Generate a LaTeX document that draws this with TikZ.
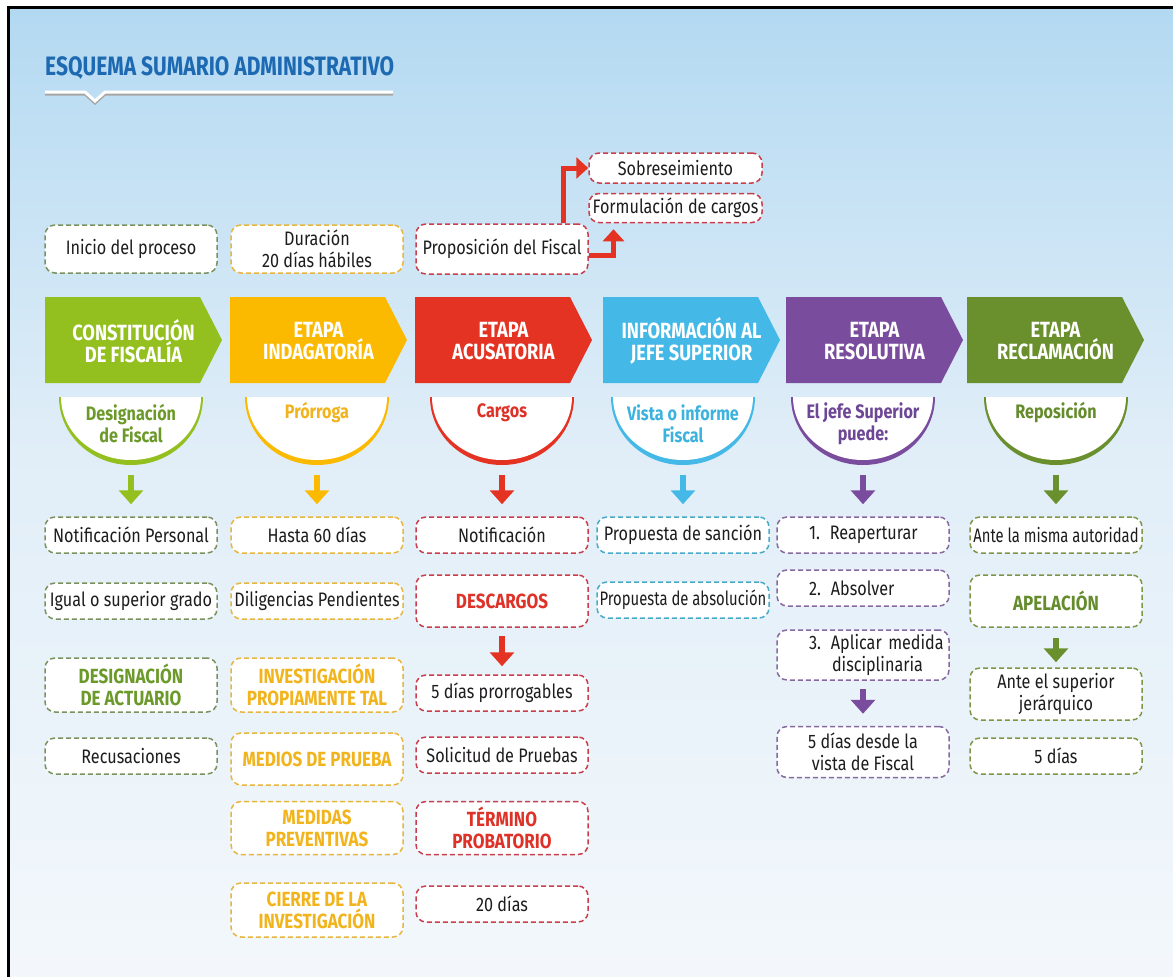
\documentclass[tikz,border=0pt]{standalone}
\usepackage{fontspec}
\setmainfont{Fira Sans}[FakeStretch=0.83]
\newfontfamily\titlefont{Fira Sans}[FakeStretch=0.79]
\newfontfamily\narrowfont{Fira Sans}[FakeStretch=0.76]
\usetikzlibrary{arrows.meta,calc}
\definecolor{bgtop}{RGB}{125,192,236}
\definecolor{bga}{RGB}{160,208,240}
\definecolor{bgb}{RGB}{190,222,243}
\definecolor{bgc}{RGB}{225,238,248}
\definecolor{bgd}{RGB}{248,250,252}
\pgfdeclareverticalshading{bgshade}{100bp}{color(0bp)=(white); color(18bp)=(bgd); color(52bp)=(bgc); color(70bp)=(bgb); color(83bp)=(bga); color(100bp)=(bgtop)}
\definecolor{ctitle}{RGB}{29,105,178}
\definecolor{fgreen}{RGB}{147,192,31}
\definecolor{tgreen}{RGB}{108,154,42}
\definecolor{forange}{RGB}{251,186,0}
\definecolor{torange}{RGB}{242,180,28}
\definecolor{fred}{RGB}{229,51,35}
\definecolor{tred}{RGB}{222,50,40}
\definecolor{fblue}{RGB}{68,184,230}
\definecolor{tblue}{RGB}{60,178,222}
\definecolor{fpurple}{RGB}{122,76,157}
\definecolor{tpurple}{RGB}{110,70,150}
\definecolor{folive}{RGB}{106,143,45}
\definecolor{tolive}{RGB}{100,140,45}
\definecolor{dgreen}{RGB}{122,146,96}
\definecolor{dorange}{RGB}{232,182,64}
\definecolor{dred}{RGB}{200,62,76}
\definecolor{dblue}{RGB}{72,170,200}
\definecolor{dpurple}{RGB}{135,105,160}
\definecolor{dolive}{RGB}{125,150,72}
\definecolor{ink}{RGB}{30,28,30}
\tikzset{
  box/.style={draw=#1, dash pattern=on 5pt off 3pt, line width=1.5pt, rounded corners=10pt,
    fill=white, minimum width=172pt, minimum height=36pt, align=center, inner sep=2pt,
    font=\fontsize{19.5}{22}\selectfont, text=ink},
  hd/.style={font=\bfseries\fontsize{20.5}{22}\selectfont},
  chev/.style={text=white, font=\bfseries\fontsize{22}{22}\selectfont, align=center, inner sep=0pt},
  bowltxt/.style={font=\bfseries\fontsize{19.5}{22}\selectfont, align=center, inner sep=0pt},
  blockarrow/.style={line width=6pt, -{Triangle[width=24pt,length=14pt]}},
  redarrow/.style={draw=fred, line width=5pt, -{Triangle[width=21pt,length=12pt]}},
  lbox/.style={box=dpurple, align=left, text width=168pt, inner xsep=2pt}
}
\newcommand{\mkstage}[8]{%
  \fill[#3] (#2,-297) -- ++(155,0) -- ++(22,-43) -- ++(-22,-43) -- ++(-155,0) -- cycle;
  \node[chev] (h#1) at (#2+88.5,-341) {#4};
  \fill[#3] (#5-72,-397) arc[start angle=180,end angle=360,x radius=72,y radius=68] -- cycle;
  \fill[white] (#5-70,-397) arc[start angle=180,end angle=360,x radius=70,y radius=63] -- cycle;
  \node[bowltxt, text=#8] (l#1) at (#5,-#7) {#6};
  \coordinate (b#1) at (#5,-465);
}
\begin{document}
\begin{tikzpicture}[x=1pt,y=1pt]
\useasboundingbox (0,0) rectangle (1173,-977);
\shade[shading=bgshade] (8,-7) rectangle (1173,-977);
\draw[line width=3pt] (8,-977) -- (8,-7) -- (1173,-7);
% title
\node[anchor=base west, inner sep=0pt, text=ctitle, font=\titlefont\bfseries\fontsize{26.6}{28}\selectfont] (title) at (45,-75) {ESQUEMA SUMARIO ADMINISTRATIVO};
\draw[gray!70, line width=3pt] (45,-94) -- (85,-94) -- (95,-103) -- (105,-94) -- (393,-94);
\draw[white, line width=3pt] (45,-92) -- (85,-92) -- (95,-101) -- (105,-92) -- (393,-92);
% stages
\mkstage{1}{45}{fgreen}{CONSTITUCIÓN\\DE FISCALÍA}{131}{Designación\\de Fiscal}{424}{tgreen}
\mkstage{2}{230}{forange}{ETAPA\\INDAGATORÍA}{317}{Prórroga}{413}{torange}
\mkstage{3}{415}{fred}{ETAPA\\ACUSATORIA}{502}{Cargos}{413}{tred}
\mkstage{4}{603}{fblue}{INFORMACIÓN AL\\JEFE SUPERIOR}{683}{Vista o informe\\Fiscal}{424}{tblue}
\mkstage{5}{786}{fpurple}{ETAPA\\RESOLUTIVA}{863}{El jefe Superior\\puede:}{424}{tpurple}
\mkstage{6}{967}{folive}{ETAPA\\RECLAMACIÓN}{1056}{Reposición}{413}{tolive}
% top boxes
\node[box=dgreen, minimum height=48pt] (c1top) at (131,-249) {Inicio del proceso};
\node[box=dorange, minimum height=48pt] (c2top) at (317,-249) {Duración\\20 días hábiles};
\node[box=dred, minimum height=50pt] (c3top) at (502,-249) {Proposición del Fiscal};
\node[box=dred, minimum width=173pt, minimum height=30pt] (sob) at (675.5,-168) {Sobreseimiento};
\node[box=dred, minimum width=173pt, minimum height=29pt] (form) at (675.5,-208) {Formulación de cargos};
\draw[redarrow] ([xshift=-25pt]c3top.north east) |- (sob.west);
\draw[redarrow, shorten >=6pt] ([yshift=-6pt]c3top.east) -| ([xshift=-62pt]form.south);
% column 1
\node[box=dgreen] (c1a) at (131,-535) {Notificación Personal};
\node[box=dgreen] (c1b) at (131,-601) {Igual o superior grado};
\node[box=dgreen, minimum height=54pt, hd, text=tgreen] (c1c) at (131,-685) {DESIGNACIÓN\\DE ACTUARIO};
\node[box=dgreen] (c1d) at (131,-756) {Recusaciones};
% column 2
\node[box=dorange] (c2a) at (317,-535) {Hasta 60 días};
\node[box=dorange] (c2b) at (317,-601) {Diligencias Pendientes};
\node[box=dorange, minimum height=54pt, hd, text=torange] (c2c) at (317,-685) {INVESTIGACIÓN\\PROPIAMENTE TAL};
\node[box=dorange, minimum height=52pt, hd, text=torange] (c2d) at (317,-759) {MEDIOS DE PRUEBA};
\node[box=dorange, minimum height=53pt, hd, text=torange] (c2e) at (317,-828) {MEDIDAS\\PREVENTIVAS};
\node[box=dorange, minimum height=54pt, hd, text=torange] (c2f) at (317,-910) {CIERRE DE LA\\INVESTIGACIÓN};
% column 3
\node[box=dred] (c3a) at (502,-535) {Notificación};
\node[box=dred, minimum height=52pt, hd, text=tred] (c3b) at (502,-601) {DESCARGOS};
\node[box=dred] (c3c) at (502,-693) {5 días prorrogables};
\node[box=dred] (c3d) at (502,-755) {Solicitud de Pruebas};
\node[box=dred, minimum height=53pt, hd, text=tred] (c3e) at (502,-828) {TÉRMINO\\PROBATORIO};
\node[box=dred] (c3f) at (502,-904) {20 días};
% column 4
\node[box=dblue] (c4a) at (683,-535) {Propuesta de sanción};
\node[box=dblue] (c4b) at (683,-600) {\narrowfont Propuesta de absolución};
% column 5
\node[lbox] (c5a) at (863,-535) {\hspace*{30pt}1.\hspace{10pt}Reaperturar};
\node[lbox] (c5b) at (863,-588) {\hspace*{30pt}2.\hspace{10pt}Absolver};
\node[lbox, minimum height=50pt] (c5c) at (863,-655) {\hspace*{30pt}3.\hspace{10pt}Aplicar medida\\\hspace*{53pt}disciplinaria};
\node[box=dpurple, minimum height=51pt] (c5d) at (863,-752) {5 días desde la\\vista de Fiscal};
% column 6
\node[box=dolive] (c6a) at (1056,-535) {\narrowfont Ante la misma autoridad};
\node[box=dolive, minimum height=52pt, hd, text=tolive] (c6b) at (1056,-601) {APELACIÓN};
\node[box=dolive, minimum height=52pt] (c6c) at (1056,-694) {Ante el superior\\jerárquico};
\node[box=dolive] (c6d) at (1056,-756) {5 días};
% arrows
\draw[blockarrow, fgreen, shorten <=10pt, shorten >=12pt] (b1) -- (c1a.north);
\draw[blockarrow, forange, shorten <=10pt, shorten >=12pt] (b2) -- (c2a.north);
\draw[blockarrow, fred, shorten <=10pt, shorten >=12pt] (b3) -- (c3a.north);
\draw[blockarrow, fblue, shorten <=10pt, shorten >=12pt] (b4) -- (c4a.north);
\draw[blockarrow, fpurple, shorten <=10pt, shorten >=12pt] (b5) -- (c5a.north);
\draw[blockarrow, folive, shorten <=10pt, shorten >=12pt] (b6) -- (c6a.north);
\draw[blockarrow, fred, shorten <=8pt, shorten >=8pt] (c3b.south) -- (c3c.north);
\draw[blockarrow, fpurple, shorten <=8pt, shorten >=12pt] (c5c.south) -- (c5d.north);
\draw[blockarrow, folive, shorten <=10pt, shorten >=5pt] (c6b.south) -- (c6c.north);
\end{tikzpicture}
\end{document}
